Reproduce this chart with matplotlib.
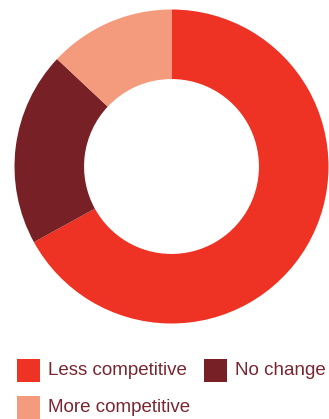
import matplotlib.pyplot as plt
from matplotlib.patches import Rectangle

# data
labels = ['Less competitive', 'No change', 'More competitive']
shares = [67, 20, 13]
colors = ['#EE3224', '#772025', '#F59B7D']
text_color = '#7A2630'

plt.rcParams['font.family'] = ['Liberation Sans', 'DejaVu Sans']

W, H = 329, 419
fig = plt.figure(figsize=(W / 100, H / 100), dpi=100)

# donut
ax = fig.add_axes([14.5 / W, (H - 166.5 - 157) / H, 314 / W, 314 / H])
ax.pie(shares, colors=colors, startangle=90, counterclock=False,
       radius=1, wedgeprops=dict(width=0.443, linewidth=0))
ax.set_xlim(-1, 1)
ax.set_ylim(-1, 1)
ax.set_aspect('equal')
ax.axis('off')

# legend drawn by hand (pixel positions from top-left)
legend_pos = [(17, 359), (204, 359), (17, 396)]
sq = 23
for (x, y), lab, col in zip(legend_pos, labels, colors):
    fig.patches.append(Rectangle((x / W, (H - y - sq) / H), sq / W, sq / H,
                                 transform=fig.transFigure, color=col, lw=0))
    fig.text((x + sq + 8) / W, (H - y - sq / 2) / H, lab, color=text_color,
             fontsize=13.5, va='center', ha='left')

fig.savefig('out.png', dpi=100)
